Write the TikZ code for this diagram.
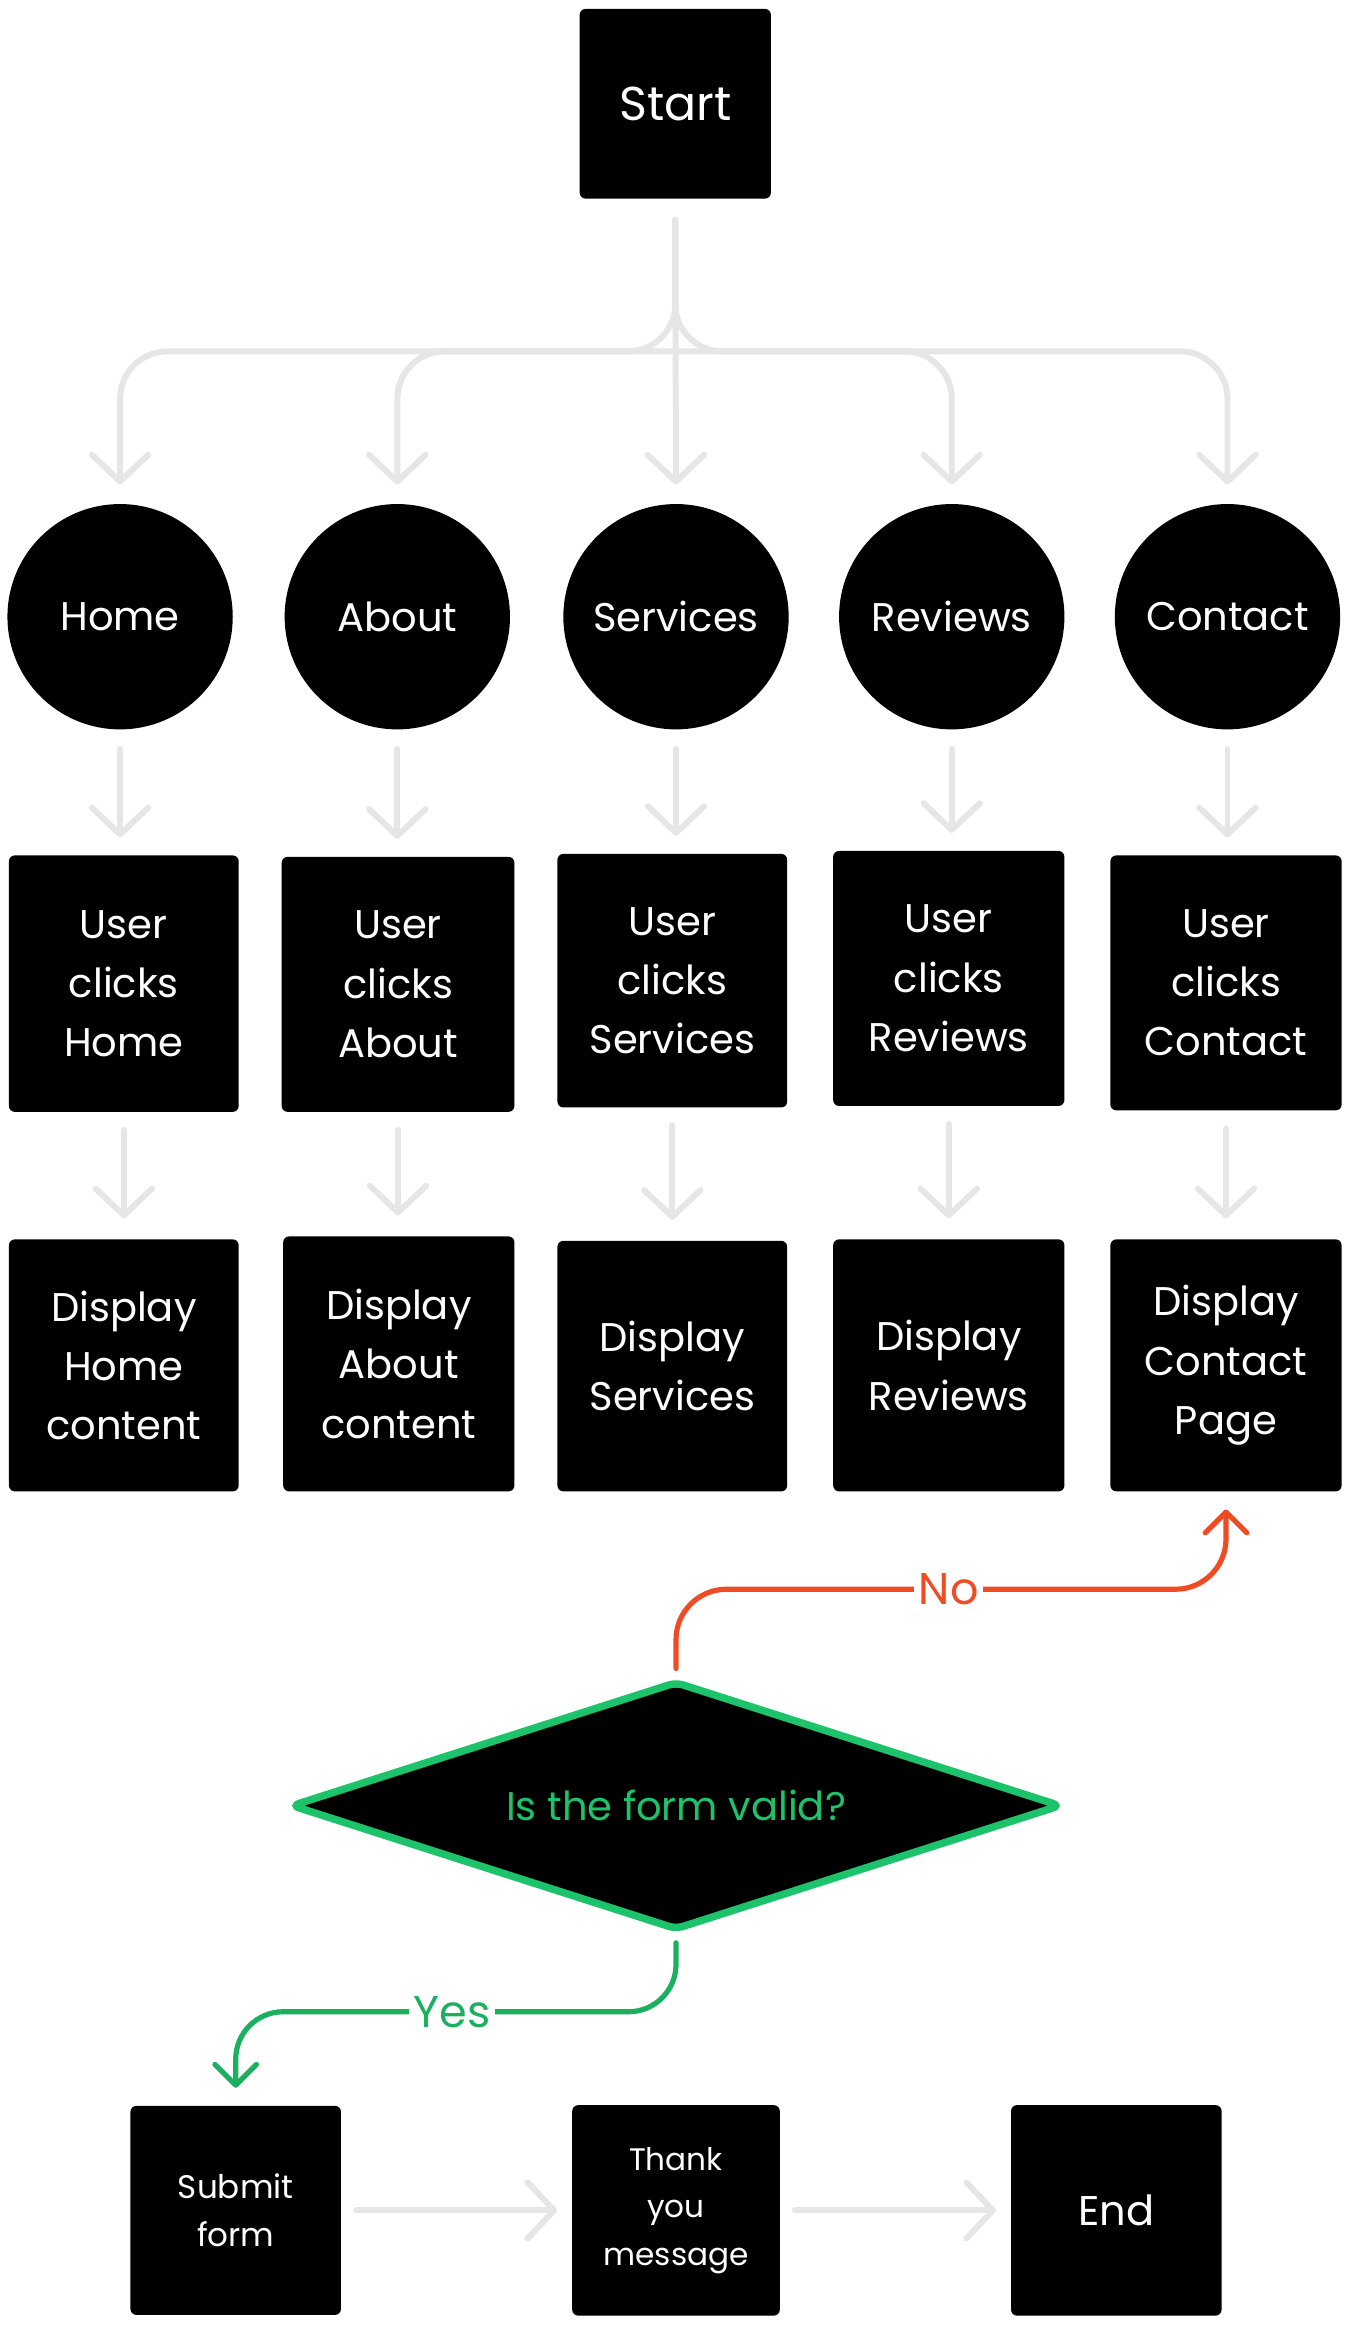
\documentclass[tikz,border=0pt]{standalone}
\usepackage{fontspec}
\setmainfont{Poppins}
\usetikzlibrary{arrows.meta,shapes.geometric,calc}
\definecolor{lgray}{HTML}{E6E6E6}
\definecolor{noc}{HTML}{F04B23}
\definecolor{qgreen}{HTML}{1DC36A}
\definecolor{ygreen}{HTML}{1BB060}
\tikzset{
  blk/.style={fill=black, rounded corners=4pt, text=white, align=center, inner sep=0pt,
              font=\fontsize{27}{40}\selectfont},
  circ/.style={circle, fill=black, text=white, minimum size=152pt, inner sep=0pt,
              font=\fontsize{27}{32}\selectfont},
  barb/.style={-{Straight Barb[length=18pt,width=38pt,line cap=round,line join=round]}},
  sbarb/.style={-{Straight Barb[length=14pt,width=28pt,line cap=round,line join=round]}},
  gl/.style={draw=lgray, line width=4pt, line cap=round, barb},
  nol/.style={draw=noc, line width=3.5pt, line cap=round, sbarb},
  yesl/.style={draw=ygreen, line width=3.5pt, line cap=round, sbarb},
}
\begin{document}
\begin{tikzpicture}[x=1pt,y=-1pt]
\useasboundingbox[fill=white] (0,0) rectangle (912,1569);

% Start
\node[blk, minimum width=129pt, minimum height=128pt, font=\fontsize{32}{36}\selectfont] (s) at (455.5,70) {Start};

% circles
\node[circ] (c1) at (81,416) {Home};
\node[circ] (c2) at (268,416) {About};
\node[circ] (c3) at (456,416) {Services};
\node[circ] (c4) at (642,416) {Reviews};
\node[circ] (c5) at (828,416) {Contact};

% user clicks
\node[blk, minimum width=155pt, minimum height=173pt] (u1) at (83.5,663.5) {User\\clicks\\Home};
\node[blk, minimum width=157pt, minimum height=172pt] (u2) at (268.5,664) {User\\clicks\\About};
\node[blk, minimum width=155pt, minimum height=171pt] (u3) at (453.5,661.5) {User\\clicks\\Services};
\node[blk, minimum width=156pt, minimum height=172pt] (u4) at (640,660) {User\\clicks\\Reviews};
\node[blk, minimum width=156pt, minimum height=172pt] (u5) at (827,663) {User\\clicks\\Contact};

% display
\node[blk, minimum width=155pt, minimum height=170pt] (d1) at (83.5,921) {Display\\Home\\content};
\node[blk, minimum width=156pt, minimum height=172pt] (d2) at (269,920) {Display\\About\\content};
\node[blk, minimum width=155pt, minimum height=169pt] (d3) at (453.5,921.5) {Display\\Services};
\node[blk, minimum width=156pt, minimum height=170pt] (d4) at (640,921) {Display\\Reviews};
\node[blk, minimum width=156pt, minimum height=170pt] (d5) at (827,921) {Display\\Contact\\Page};

% decision
\node[diamond, fill=black, draw=qgreen, line width=5pt, rounded corners=5pt, aspect=3.08,
      minimum width=520pt, minimum height=168pt, inner sep=0pt, text=qgreen,
      font=\fontsize{27}{32}\selectfont] (q) at (456,1218) {Is the form valid?};

% bottom row
\node[blk, minimum width=142pt, minimum height=141pt, font=\fontsize{22}{32}\selectfont] (sub) at (159,1491) {Submit\\form};
\node[blk, minimum width=140pt, minimum height=142pt, font=\fontsize{21}{32}\selectfont] (thx) at (456,1491) {Thank\\you\\message};
\node[blk, minimum width=142pt, minimum height=142pt, font=\fontsize{28}{34}\selectfont] (end) at (753,1491) {End};

% branch connectors
\coordinate (bar) at (456,237);
\draw[gl, shorten <=14pt, shorten >=13pt] (s.south) -- (c3.north);
\draw[gl, rounded corners=32pt, shorten <=14pt, shorten >=13pt] (s.south) |- (c1.north |- bar) -- (c1.north);
\draw[gl, rounded corners=32pt, shorten <=14pt, shorten >=13pt] (s.south) |- (c5.north |- bar) -- (c5.north);
\draw[gl, rounded corners=32pt, shorten >=13pt] (bar) -| (c2.north);
\draw[gl, rounded corners=32pt, shorten >=13pt] (bar) -| (c4.north);

% circle -> user clicks -> display
\foreach \i in {1,...,5}{
  \draw[gl, shorten <=13pt, shorten >=12pt] (c\i.south) -- (c\i.south |- u\i.north);
  \draw[gl, shorten <=12pt, shorten >=14pt] (u\i.south) -- (u\i.south |- d\i.north);
}

% No
\coordinate (nomid) at (640,1072);
\draw[nol, rounded corners=34pt, shorten <=6pt, shorten >=12pt] (q.north) |- (nomid) -| (d5.south);
\node[fill=white, text=noc, inner sep=3pt, font=\fontsize{30}{34}\selectfont] (nolab) at (nomid) {No};

% Yes
\coordinate (yesmid) at (305,1357);
\draw[yesl, rounded corners=32pt, shorten <=6pt, shorten >=12pt] (q.south) |- (yesmid) -| (sub.north);
\node[fill=white, text=ygreen, inner sep=3pt, font=\fontsize{30}{34}\selectfont] (yeslab) at (yesmid) {Yes};

% bottom arrows
\draw[gl, shorten <=10pt, shorten >=10pt] (sub.east) -- (sub.east -| thx.west);
\draw[gl, shorten <=10pt, shorten >=10pt] (thx.east) -- (thx.east -| end.west);
\end{tikzpicture}
\end{document}
